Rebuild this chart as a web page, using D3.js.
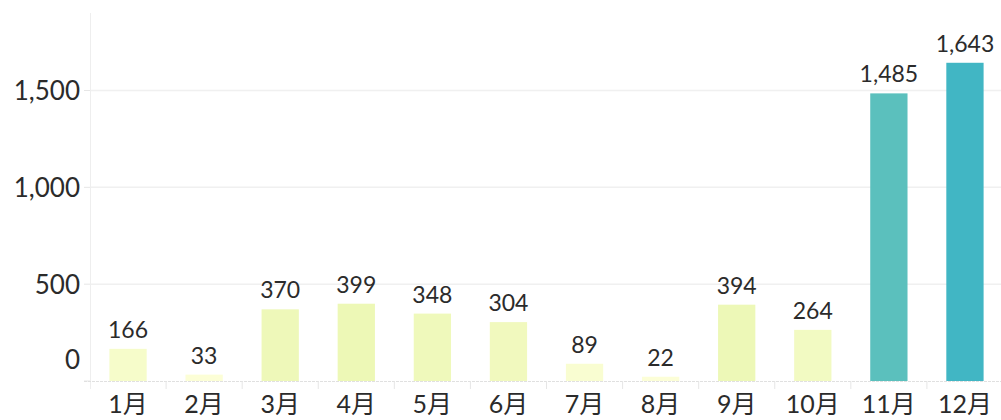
<!DOCTYPE html>
<html>
<head>
<meta charset="utf-8">
<script src="https://cdn.jsdelivr.net/npm/d3@7"></script>
<style>
  body { margin: 0; background: #fff; }
  text { font-family: Lato, "Noto Sans CJK SC", sans-serif; fill: #2b2b2b; }
</style>
</head>
<body>
<div id="chart"></div>
<script>
// data
const months = ["1月", "2月", "3月", "4月", "5月", "6月", "7月", "8月", "9月", "10月", "11月", "12月"];
const counts = [166, 33, 370, 399, 348, 304, 89, 22, 394, 264, 1485, 1643];
const yTicks = [0, 500, 1000, 1500];

const width = 1001, height = 420;
const margin = { top: 13, right: -2, bottom: 39, left: 90 };

const svg = d3.select("#chart").append("svg")
    .attr("width", width)
    .attr("height", height);

const x = d3.scaleBand()
    .domain(months)
    .range([margin.left, width - margin.right])
    .paddingInner(0.51)
    .paddingOuter(0.255);

const y = d3.scaleLinear()
    .domain([0, 1900])
    .range([height - margin.bottom, margin.top]);

const color = d3.scaleLinear()
    .domain([0, 400, 1485, 1643])
    .range(["#fdfed9", "#edf8b6", "#5bc0bd", "#41b6c4"]);

// gridlines
svg.append("g")
    .selectAll("line")
    .data(yTicks.filter(d => d > 0))
    .join("line")
    .attr("x1", margin.left)
    .attr("x2", width)
    .attr("y1", d => y(d))
    .attr("y2", d => y(d))
    .attr("stroke", "#f0f0f0")
    .attr("stroke-width", 1.5);

// left axis line + ticks
svg.append("line")
    .attr("x1", margin.left + 0.5).attr("x2", margin.left + 0.5)
    .attr("y1", margin.top).attr("y2", y(0) + 8)
    .attr("stroke", "#eeeeee");

svg.append("g")
    .selectAll("line")
    .data(yTicks)
    .join("line")
    .attr("x1", margin.left - 6)
    .attr("x2", margin.left)
    .attr("y1", d => y(d))
    .attr("y2", d => y(d))
    .attr("stroke", "#e6e6e6");

svg.append("g")
    .selectAll("text")
    .data(yTicks)
    .join("text")
    .attr("x", margin.left - 10)
    .attr("y", d => d === 0 ? y(d) - 21 : y(d))
    .attr("dy", "0.36em")
    .attr("text-anchor", "end")
    .attr("font-size", "26px")
    .text(d => d3.format(",")(d));

// baseline and category separators
svg.append("line")
    .attr("x1", margin.left - 6).attr("x2", width)
    .attr("y1", y(0) + 0.5).attr("y2", y(0) + 0.5)
    .attr("stroke", "#e0e0e0")
    .attr("stroke-dasharray", "3,1");

svg.append("g")
    .selectAll("line")
    .data(months.slice(1))
    .join("line")
    .attr("x1", d => x(d) - x.step() * x.paddingInner() / 2)
    .attr("x2", d => x(d) - x.step() * x.paddingInner() / 2)
    .attr("y1", y(0))
    .attr("y2", y(0) + 8)
    .attr("stroke", "#e6e6e6");

// bars
svg.append("g")
    .selectAll("rect")
    .data(counts)
    .join("rect")
    .attr("x", (d, i) => x(months[i]))
    .attr("y", d => y(d))
    .attr("width", x.bandwidth())
    .attr("height", d => y(0) - y(d))
    .attr("fill", d => color(d));

// value labels
svg.append("g")
    .selectAll("text")
    .data(counts)
    .join("text")
    .attr("x", (d, i) => x(months[i]) + x.bandwidth() / 2)
    .attr("y", d => y(d) - 11)
    .attr("text-anchor", "middle")
    .attr("font-size", "23px")
    .text(d => d3.format(",")(d));

// month labels
svg.append("g")
    .selectAll("text")
    .data(months)
    .join("text")
    .attr("x", d => x(d) + x.bandwidth() / 2)
    .attr("y", height - 7)
    .attr("text-anchor", "middle")
    .attr("font-size", "25px")
    .text(d => d);
</script>
</body>
</html>
